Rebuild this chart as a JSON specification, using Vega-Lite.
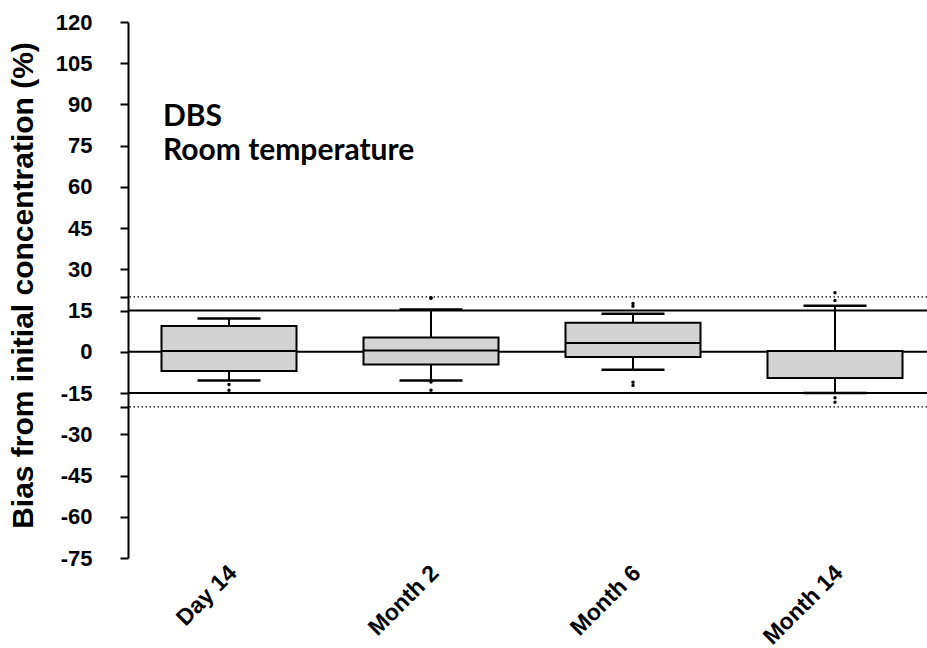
{
  "$schema": "https://vega.github.io/schema/vega-lite/v6.json",
  "width": 799,
  "height": 536,
  "autosize": {"type": "none"},
  "padding": {"left": 128, "top": 22, "right": 0, "bottom": 90},
  "background": "white",
  "config": {
    "view": {"stroke": null},
    "axis": {"labelOverlap": false, "labelFlush": false, "labelBound": false}
  },
  "datasets": {
    "stats": [
      {"time": "Day 14", "min": -10.4, "q1": -7.0, "median": 0.3, "q3": 9.4, "max": 12.1},
      {"time": "Month 2", "min": -10.4, "q1": -4.6, "median": 0.5, "q3": 5.2, "max": 15.4},
      {"time": "Month 6", "min": -6.5, "q1": -1.9, "median": 3.2, "q3": 10.6, "max": 13.9},
      {"time": "Month 14", "min": -15.0, "q1": -9.5, "median": 0.3, "q3": 0.3, "max": 16.8}
    ],
    "outliers": [
      {"time": "Day 14", "value": -11.9},
      {"time": "Day 14", "value": -14.0},
      {"time": "Month 2", "value": 19.7},
      {"time": "Month 2", "value": 19.5},
      {"time": "Month 2", "value": -11.0},
      {"time": "Month 2", "value": -14.0},
      {"time": "Month 6", "value": 17.6},
      {"time": "Month 6", "value": 16.6},
      {"time": "Month 6", "value": -11.1},
      {"time": "Month 6", "value": -12.2},
      {"time": "Month 14", "value": 21.5},
      {"time": "Month 14", "value": 18.7},
      {"time": "Month 14", "value": -16.7},
      {"time": "Month 14", "value": -18.3}
    ],
    "solidRefs": [{"y": 15}, {"y": 0}, {"y": -15}],
    "dottedRefs": [{"y": 20}, {"y": -20}],
    "notes": [
      {"time": "Day 14", "y": 82.2, "label": "DBS"},
      {"time": "Day 14", "y": 69.7, "label": "Room temperature"}
    ]
  },
  "layer": [
    {
      "data": {"name": "dottedRefs"},
      "mark": {"type": "rule", "color": "black", "strokeWidth": 1.2, "strokeDash": [1.5, 2.5]},
      "encoding": {
        "y": {
          "field": "y", "type": "quantitative",
          "scale": {"domain": [-75, 120], "nice": false, "zero": false},
          "axis": {
            "values": [-75, -60, -45, -30, -20, -15, 0, 15, 20, 30, 45, 60, 75, 90, 105, 120],
            "tickCount": 30,
            "labelExpr": "datum.value == 20 || datum.value == -20 ? '' : replace(datum.label, '\u2212', '-')",
            "labelOverlap": false,
            "title": "Bias from initial concentration (%)",
            "titleFont": "Liberation Sans",
            "titleFontWeight": "bold",
            "titleFontSize": 30,
            "titleColor": "black",
            "titleAngle": -90,
            "titleAlign": "center",
            "titleBaseline": "middle",
            "titleX": -105,
            "titleY": 263,
            "labelFont": "Liberation Sans",
            "labelFontWeight": "bold",
            "labelFontSize": 22,
            "labelColor": "black",
            "labelPadding": 28,
            "domainColor": "black",
            "domainWidth": 2,
            "tickColor": "black",
            "tickWidth": 2,
            "tickSize": 8,
            "grid": false
          }
        }
      }
    },
    {
      "data": {"name": "solidRefs"},
      "mark": {"type": "rule", "color": "black", "strokeWidth": 2},
      "encoding": {"y": {"field": "y", "type": "quantitative"}}
    },
    {
      "data": {"name": "stats"},
      "mark": {"type": "rule", "color": "black", "strokeWidth": 2},
      "encoding": {
        "x": {
          "field": "time", "type": "nominal",
          "sort": ["Day 14", "Month 2", "Month 6", "Month 14"],
          "scale": {"range": [0, 808], "paddingInner": 0, "paddingOuter": 0},
          "axis": {
            "title": null,
            "domain": false,
            "ticks": false,
            "labelAngle": -45,
            "labelAlign": "right",
            "labelBaseline": "middle",
            "labelPadding": 11,
            "labelOffset": 4,
            "labelFont": "Liberation Sans",
            "labelFontWeight": "bold",
            "labelFontSize": 23,
            "labelColor": "black"
          }
        },
        "y": {"field": "min", "type": "quantitative"},
        "y2": {"field": "max"}
      }
    },
    {
      "data": {"name": "stats"},
      "mark": {"type": "bar", "size": 135, "fill": "#d3d3d3", "stroke": "black", "strokeWidth": 2},
      "encoding": {
        "x": {"field": "time", "type": "nominal", "sort": ["Day 14", "Month 2", "Month 6", "Month 14"]},
        "y": {"field": "q1", "type": "quantitative"},
        "y2": {"field": "q3"}
      }
    },
    {
      "data": {"name": "stats"},
      "mark": {"type": "tick", "size": 135, "thickness": 2, "color": "black", "opacity": 1},
      "encoding": {
        "x": {"field": "time", "type": "nominal", "sort": ["Day 14", "Month 2", "Month 6", "Month 14"]},
        "y": {"field": "median", "type": "quantitative"}
      }
    },
    {
      "data": {"name": "stats"},
      "mark": {"type": "tick", "size": 63, "thickness": 2.5, "color": "black", "opacity": 1},
      "encoding": {
        "x": {"field": "time", "type": "nominal", "sort": ["Day 14", "Month 2", "Month 6", "Month 14"]},
        "y": {"field": "min", "type": "quantitative"}
      }
    },
    {
      "data": {"name": "stats"},
      "mark": {"type": "tick", "size": 63, "thickness": 2.5, "color": "black", "opacity": 1},
      "encoding": {
        "x": {"field": "time", "type": "nominal", "sort": ["Day 14", "Month 2", "Month 6", "Month 14"]},
        "y": {"field": "max", "type": "quantitative"}
      }
    },
    {
      "data": {"name": "outliers"},
      "mark": {"type": "point", "filled": true, "size": 12, "color": "black", "opacity": 1},
      "encoding": {
        "x": {"field": "time", "type": "nominal", "sort": ["Day 14", "Month 2", "Month 6", "Month 14"]},
        "y": {"field": "value", "type": "quantitative"}
      }
    },
    {
      "data": {"name": "notes"},
      "mark": {"type": "text", "align": "left", "baseline": "alphabetic", "dx": -66, "font": "Lato", "fontWeight": "bold", "fontSize": 30, "color": "black"},
      "encoding": {
        "x": {"field": "time", "type": "nominal", "sort": ["Day 14", "Month 2", "Month 6", "Month 14"]},
        "y": {"field": "y", "type": "quantitative"},
        "text": {"field": "label"}
      }
    }
  ]
}
